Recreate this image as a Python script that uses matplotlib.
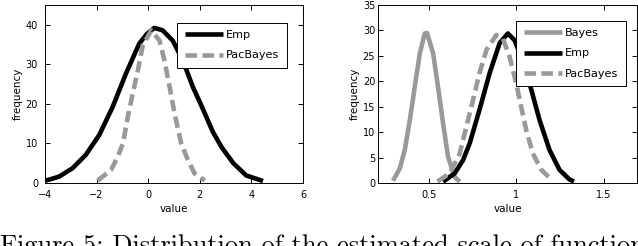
import matplotlib
matplotlib.use("Agg")
import matplotlib.pyplot as plt

# left panel: values
emp_left_x = [-3.97, -3.46, -2.94, -2.42, -1.9, -1.38, -0.86, -0.35, -0.05,
              0.24, 0.56, 0.95, 1.34, 1.73, 2.1, 2.5, 2.85, 3.3, 3.8, 4.45]
emp_left_y = [0.6, 1.6, 3.7, 7.1, 12.1, 19.2, 27.7, 35.2, 37.7,
              39.2, 38.6, 36.0, 31.0, 24.3, 19.0, 13.0, 9.0, 5.0, 1.9, 0.5]
pac_left_x = [-1.96, -1.44, -1.18, -0.98, -0.79, -0.6, -0.4, -0.21, 0.12,
              0.44, 0.63, 0.83, 1.02, 1.28, 1.54, 1.8, 2.19]
pac_left_y = [0.6, 3.3, 6.6, 10.0, 16.7, 22.6, 28.5, 34.8, 38.6,
              36.0, 31.0, 24.3, 17.6, 10.0, 5.8, 2.4, 0.6]

# right panel
bayes_x = [0.296, 0.335, 0.363, 0.392, 0.42, 0.449, 0.477, 0.49, 0.525,
           0.553, 0.582, 0.61, 0.648, 0.677]
bayes_y = [0.45, 2.9, 6.5, 12.4, 18.9, 25.5, 29.4, 29.5, 25.5,
           18.9, 11.7, 5.2, 1.2, 0.25]
emp_right_x = [0.582, 0.648, 0.696, 0.734, 0.79, 0.848, 0.905, 0.952, 0.99,
               1.028, 1.076, 1.133, 1.19, 1.247, 1.304, 1.33]
emp_right_y = [0.25, 1.9, 4.5, 7.8, 14.4, 21.6, 27.5, 29.4, 28.1,
               24.8, 19.6, 12.4, 6.5, 2.6, 0.7, 0.3]
pac_right_x = [0.55, 0.62, 0.677, 0.715, 0.753, 0.79, 0.829, 0.886, 0.924,
               0.962, 1.0, 1.028, 1.057, 1.095, 1.143, 1.2]
pac_right_y = [0.3, 1.9, 5.8, 11.1, 16.3, 21.6, 26.1, 29.1, 28.4,
               24.8, 19.6, 15.0, 10.4, 5.8, 2.6, 0.7]

left_xticks = [-4, -2, 0, 2, 4, 6]
left_yticks = [0, 10, 20, 30, 40]
right_xticks = [0.5, 1, 1.5]
right_xticklabels = ["0.5", "1", "1.5"]
right_yticks = [0, 5, 10, 15, 20, 25, 30, 35]

caption = "Figure 5: Distribution of the estimated scale of function"

gray = "#999999"
lw = 3.3
dash = (2.5, 1.2)

plt.rcParams["font.family"] = "DejaVu Sans"

fig = plt.figure(figsize=(6.38, 2.46), dpi=100)
ax1 = fig.add_axes([45 / 638, 1 - 183 / 246, 258 / 638, 178 / 246])
ax2 = fig.add_axes([378 / 638, 1 - 183 / 246, 259 / 638, 178 / 246])

style = dict(lw=lw, solid_joinstyle="round", solid_capstyle="butt")
ax1.plot(emp_left_x, emp_left_y, color="black", label="Emp", **style)
ax1.plot(pac_left_x, pac_left_y, color=gray, dashes=dash, label="PacBayes", **style)
ax1.set_xlim(-4, 6)
ax1.set_ylim(0, 45)
ax1.set_xticks(left_xticks)
ax1.set_yticks(left_yticks)

ax2.plot(bayes_x, bayes_y, color=gray, label="Bayes", **style)
ax2.plot(emp_right_x, emp_right_y, color="black", label="Emp", **style)
ax2.plot(pac_right_x, pac_right_y, color=gray, dashes=dash, label="PacBayes", **style)
ax2.set_xlim(0.21, 1.69)
ax2.set_ylim(0, 35)
ax2.set_xticks(right_xticks)
ax2.set_xticklabels(right_xticklabels)
ax2.set_yticks(right_yticks)

for ax, ypad in ((ax1, 5), (ax2, 2)):
    ax.tick_params(direction="in", top=True, right=True, length=3.5, width=0.7,
                   labelsize=7)
    ax.tick_params(axis="x", pad=5)
    ax.tick_params(axis="y", pad=ypad)
    for s in ax.spines.values():
        s.set_linewidth(0.7)
    ax.set_xlabel("value", fontsize=7.5, labelpad=3)
    ax.set_ylabel("frequency", fontsize=7.5, labelpad=2)
    leg = ax.legend(loc="upper right", fontsize=8.1, handlelength=3.4,
                    handletextpad=0.3, borderpad=0.65, labelspacing=0.9,
                    fancybox=False, framealpha=1, edgecolor="black",
                    borderaxespad=0)
    leg.get_frame().set_linewidth(0.7)

ax1.get_legend().set_bbox_to_anchor((287 / 638, 1 - 23 / 246),
                                    transform=fig.transFigure)
ax2.get_legend().set_bbox_to_anchor((626 / 638, 1 - 21 / 246),
                                    transform=fig.transFigure)

# caption sits below the panels and is cut by the bottom edge, as in the source
fig.text(0.0, -0.03, caption, fontfamily="cmr10", fontsize=19,
         ha="left", va="baseline")

fig.savefig("out.png", dpi=100)
